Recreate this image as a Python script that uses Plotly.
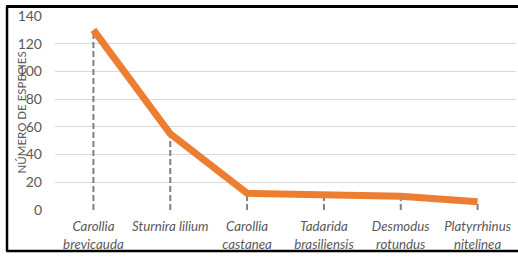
import plotly.graph_objects as go

categories = ["Carollia<br>brevicauda", "Sturnira lilium", "Carollia<br>castanea",
              "Tadarida<br>brasiliensis", "Desmodus<br>rotundus", "Platyrrhinus<br>nitelinea"]
species_counts = [130, 55, 12, 11, 10, 6]
y_ticks = [0, 20, 40, 60, 80, 100, 120, 140]
y_title = "NÚMERO DE ESPECIES"

drop_x, drop_y = [], []
for c, v in zip(categories, species_counts):
    drop_x += [c, c, None]
    drop_y += [0, v, None]

fig = go.Figure()
fig.add_trace(go.Scatter(
    x=drop_x, y=drop_y, mode="lines",
    line=dict(color="#7F7F7F", width=2, dash="6px,3px"), hoverinfo="skip", showlegend=False))
fig.add_trace(go.Scatter(
    x=categories, y=species_counts, mode="lines",
    line=dict(color="#ED7D31", width=7), hoverinfo="skip", showlegend=False))

border = dict(color="black", width=2.5)
fig.update_layout(
    width=518, height=257,
    margin=dict(l=55, r=2, t=16, b=47),
    paper_bgcolor="white", plot_bgcolor="white",
    font=dict(family="Lato, Liberation Sans, sans-serif", color="#595959"),
    xaxis=dict(type="category", categoryorder="array", categoryarray=categories,
               range=[-0.5, 5.5],
               showgrid=False, zeroline=False, showline=False, ticks="", ticklabelstandoff=7,
               tickfont=dict(size=13.3, style="italic", color="#595959")),
    yaxis=dict(range=[0, 140], tickvals=y_ticks, showgrid=True, gridcolor="#D9D9D9", gridwidth=1,
               zeroline=False, showline=False, ticks="", ticklabelstandoff=12,
               tickfont=dict(size=14, color="#595959")),
    annotations=[dict(text=y_title, xref="paper", yref="paper", x=-0.0748, y=0.5,
                      textangle=-90, showarrow=False, xanchor="center", yanchor="middle",
                      font=dict(size=11.5, color="#595959"))],
    shapes=[
        dict(type="line", xref="paper", yref="paper", x0=-0.1041, x1=-0.1041, y0=-0.2113, y1=1.049, line=border, layer="above"),
        dict(type="line", xref="paper", yref="paper", x0=-0.106, x1=1.2, y0=1.049, y1=1.049, line=dict(color="black", width=3), layer="above"),
        dict(type="line", xref="paper", yref="paper", x0=-0.106, x1=1.2, y0=-0.2113, y1=-0.2113, line=border, layer="above"),
    ],
)
fig.write_html("out.html", config={"displayModeBar": False},
               post_script="document.body.style.margin='0';")
